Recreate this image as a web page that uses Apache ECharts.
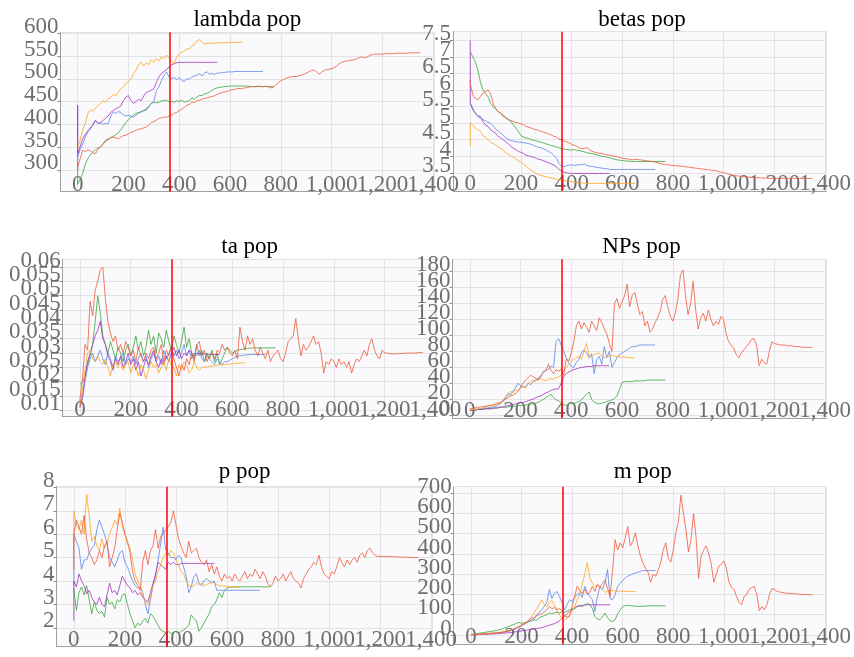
<!DOCTYPE html>
<html><head><meta charset="utf-8">
<script src="https://cdn.jsdelivr.net/npm/echarts@6/dist/echarts.min.js"></script>
<style>html,body{margin:0;padding:0;background:#fff}#c{width:854px;height:657px}</style>
</head><body><div id="c"></div>
<script>
const STEP = 10;           // x spacing of the sampled values
const MARKER_X = 362;      // vertical red marker
const X_MIN = -68, X_MAX = 1405, X_INTERVAL = 200;

// ---------- lambda pop ----------
const lambda_red_head = [300];
const lambda_red = [305,325,343,340,344,342,338,335,345,350,356,363,366,370,372,370,368,372,375,376,379,382,384,387,389,390,392,394,398,404,406,409,413,414,416,415,418,420,424,426,430,433,437,442,444,449,448,452,453,455,457,458,460,461,463,466,468,470,471,473,475,476,477,479,478,479,480,481,482,483,482,484,483,482,484,482,480,481,486,491,496,498,501,503,504,505,505,506,508,510,512,515,518,519,516,510,514,518,520,521,522,524,528,533,536,538,539,540,541,542,544,547,548,546,548,551,553,554,554,554,554,555,555,555,555,556,556,556,556,556,556,557,557,557,557,557];
const lambda_orange = [350,365,388,402,424,432,428,436,441,446,452,448,456,459,466,462,471,478,482,490,494,501,511,519,531,536,528,535,531,541,536,545,539,548,544,552,546,538,533,548,555,558,561,566,565,572,575,583,586,580,576,578,578,578,578,579,579,579,579,579,580,580,580,580,580,580];
const lambda_purple_head = [300,442];
const lambda_purple = [335,352,368,378,386,392,398,408,402,404,408,414,418,426,430,434,437,440,452,460,463,452,446,450,455,452,462,470,472,475,478,492,504,512,516,520,526,531,533,535,536,536,536,536,536,536,536,536,536,536,536,536,536,536,536,536];
const lambda_blue = [328,345,357,372,383,390,400,409,402,403,400,402,401,418,427,424,428,426,421,418,420,417,416,420,424,428,430,434,440,446,450,474,482,496,508,515,503,500,503,498,502,496,494,500,499,504,506,508,511,506,513,515,510,512,509,513,512,514,514,515,515,515,516,516,516,516,516,516,516,516,516,516,516,516];
const lambda_green_head = [300];
const lambda_green = [268,280,292,312,325,333,339,344,348,351,358,365,368,371,373,377,381,388,396,404,410,416,420,424,426,427,430,431,438,446,448,447,449,451,452,453,449,451,448,452,450,453,449,450,452,458,455,460,464,463,467,468,471,475,478,480,481,482,483,483,484,484,484,484,484,484,484,484,483,483,483,483,483,483,483,483,483,483];

// ---------- betas pop ----------
const betas_red_head = [6.3];
const betas_red = [6.2,5.85,5.75,5.7,5.8,5.9,5.95,6.0,5.9,5.6,5.45,5.35,5.3,5.2,5.15,5.1,5.08,5.05,5.02,5.0,4.98,4.95,4.9,4.88,4.85,4.82,4.8,4.78,4.75,4.72,4.7,4.67,4.64,4.6,4.58,4.52,4.5,4.46,4.44,4.4,4.36,4.33,4.3,4.25,4.22,4.24,4.26,4.2,4.15,4.12,4.1,4.09,4.08,4.06,4.04,4.03,4.01,4.0,3.98,3.96,3.94,3.93,3.92,3.9,3.89,3.9,3.9,3.89,3.88,3.87,3.86,3.85,3.84,3.82,3.8,3.78,3.76,3.75,3.74,3.73,3.72,3.71,3.71,3.7,3.69,3.68,3.67,3.66,3.65,3.64,3.63,3.62,3.61,3.6,3.59,3.58,3.57,3.56,3.54,3.52,3.5,3.48,3.46,3.44,3.42,3.41,3.4,3.39,3.38,3.37,3.37,3.36,3.36,3.35,3.35,3.34,3.34,3.34,3.33,3.33,3.33,3.33,3.33,3.33,3.33,3.33,3.33,3.33,3.33,3.33,3.33,3.33,3.33,3.33,3.33,3.33];
const betas_orange_head = [4.3];
const betas_orange = [5.0,4.95,4.85,4.8,4.75,4.62,4.58,4.5,4.42,4.38,4.34,4.28,4.24,4.18,4.1,4.06,4.0,3.98,3.92,3.86,3.83,3.76,3.7,3.64,3.58,3.53,3.48,3.44,3.42,3.4,3.38,3.36,3.34,3.33,3.31,3.29,3.28,3.27,3.26,3.24,3.23,3.22,3.21,3.2,3.19,3.19,3.18,3.18,3.18,3.18,3.18,3.18,3.18,3.18,3.18,3.18,3.18,3.18,3.18,3.18,3.18,3.18,3.18,3.18,3.18,3.18];
const betas_purple_head = [7.5];
const betas_purple = [5.6,5.4,5.3,5.22,5.2,5.05,4.95,4.9,4.8,4.74,4.7,4.6,4.56,4.5,4.44,4.38,4.3,4.24,4.2,4.14,4.12,4.08,4.03,4.01,3.99,3.97,3.94,3.91,3.89,3.86,3.83,3.8,3.77,3.73,3.68,3.6,3.56,3.52,3.5,3.49,3.48,3.48,3.48,3.48,3.48,3.48,3.48,3.48,3.48,3.48,3.48,3.48,3.48,3.48,3.48,3.48];
const betas_blue = [5.6,5.45,5.3,5.2,5.15,5.1,5.08,5.02,5.0,4.92,4.82,4.76,4.7,4.64,4.56,4.5,4.48,4.46,4.44,4.43,4.42,4.41,4.4,4.38,4.36,4.32,4.29,4.27,4.25,4.22,4.18,4.14,4.1,4.02,3.94,3.78,3.7,3.68,3.71,3.73,3.74,3.72,3.73,3.75,3.74,3.77,3.72,3.7,3.69,3.68,3.66,3.65,3.64,3.63,3.62,3.6,3.6,3.6,3.6,3.6,3.6,3.6,3.6,3.6,3.6,3.6,3.6,3.6,3.6,3.6,3.6,3.6,3.6,3.6];
const betas_green_head = [7.15];
const betas_green = [7.1,7.0,6.85,6.6,6.25,6.0,5.9,5.8,5.6,5.5,5.42,5.35,5.3,5.24,5.18,5.12,5.05,4.95,4.85,4.75,4.62,4.58,4.55,4.54,4.5,4.48,4.46,4.44,4.42,4.4,4.37,4.35,4.32,4.3,4.28,4.25,4.23,4.22,4.2,4.19,4.19,4.2,4.18,4.17,4.15,4.13,4.11,4.09,4.08,4.06,4.04,4.02,4.0,3.99,3.97,3.95,3.93,3.91,3.89,3.88,3.87,3.86,3.85,3.85,3.84,3.84,3.84,3.84,3.84,3.84,3.84,3.84,3.84,3.84,3.84,3.84,3.84,3.84];

// ---------- ta pop ----------
const ta_red_head = [0.012];
const ta_red = [0.014,0.021,0.033,0.031,0.048,0.043,0.052,0.055,0.059,0.06,0.049,0.041,0.037,0.034,0.036,0.031,0.033,0.03,0.034,0.032,0.029,0.031,0.027,0.032,0.029,0.027,0.03,0.028,0.031,0.032,0.028,0.03,0.033,0.027,0.031,0.029,0.032,0.028,0.025,0.022,0.026,0.024,0.028,0.026,0.03,0.027,0.033,0.034,0.029,0.031,0.027,0.029,0.03,0.028,0.031,0.03,0.033,0.031,0.032,0.03,0.029,0.031,0.028,0.039,0.034,0.031,0.036,0.033,0.035,0.031,0.029,0.032,0.03,0.028,0.031,0.027,0.029,0.03,0.031,0.028,0.027,0.03,0.034,0.035,0.036,0.042,0.035,0.029,0.033,0.031,0.032,0.034,0.036,0.033,0.034,0.03,0.023,0.027,0.026,0.028,0.027,0.025,0.028,0.026,0.027,0.025,0.027,0.023,0.026,0.028,0.027,0.029,0.031,0.029,0.033,0.035,0.031,0.029,0.028,0.031,0.03,0.03,0.0298,0.0297,0.0297,0.0298,0.0298,0.0299,0.0299,0.03,0.03,0.03,0.03,0.0301,0.0302,0.0302];
const ta_orange_head = [0.011];
const ta_orange = [0.012,0.017,0.024,0.03,0.031,0.028,0.027,0.029,0.027,0.026,0.028,0.025,0.022,0.026,0.027,0.025,0.027,0.024,0.026,0.027,0.023,0.026,0.025,0.022,0.026,0.024,0.021,0.024,0.027,0.025,0.026,0.023,0.025,0.027,0.024,0.028,0.026,0.025,0.022,0.026,0.024,0.027,0.026,0.023,0.024,0.027,0.025,0.024,0.025,0.025,0.0252,0.0254,0.0255,0.0256,0.0257,0.0258,0.0259,0.026,0.0261,0.0262,0.0263,0.0264,0.0265,0.0265,0.0266,0.0266];
const ta_purple = [0.011,0.015,0.022,0.027,0.03,0.033,0.036,0.038,0.041,0.035,0.033,0.029,0.027,0.024,0.028,0.026,0.029,0.025,0.027,0.03,0.026,0.028,0.024,0.027,0.022,0.025,0.028,0.026,0.029,0.031,0.027,0.025,0.028,0.026,0.029,0.027,0.03,0.032,0.029,0.031,0.028,0.03,0.029,0.031,0.03,0.029,0.03,0.0298,0.0297,0.0297,0.0296,0.0296,0.0295,0.0295,0.0295,0.0295];
const ta_blue = [0.011,0.014,0.02,0.025,0.028,0.03,0.027,0.029,0.031,0.028,0.026,0.03,0.028,0.025,0.029,0.027,0.028,0.03,0.026,0.028,0.027,0.029,0.026,0.028,0.03,0.027,0.029,0.025,0.028,0.03,0.027,0.029,0.026,0.031,0.028,0.03,0.032,0.029,0.031,0.028,0.03,0.033,0.029,0.031,0.028,0.03,0.029,0.031,0.028,0.027,0.029,0.028,0.027,0.026,0.028,0.027,0.026,0.027,0.027,0.0275,0.028,0.0285,0.029,0.029,0.0292,0.0293,0.0294,0.0295,0.0295,0.0295,0.0295,0.0295,0.0295,0.0295];
const ta_green = [0.019,0.02,0.022,0.026,0.029,0.033,0.041,0.05,0.044,0.036,0.033,0.03,0.034,0.031,0.028,0.032,0.03,0.027,0.031,0.033,0.029,0.032,0.036,0.031,0.034,0.029,0.032,0.038,0.033,0.036,0.03,0.037,0.035,0.032,0.038,0.034,0.031,0.036,0.033,0.03,0.034,0.039,0.032,0.035,0.03,0.028,0.033,0.029,0.031,0.027,0.03,0.028,0.031,0.027,0.03,0.026,0.028,0.03,0.032,0.031,0.03,0.0305,0.031,0.0312,0.0314,0.0315,0.0316,0.0317,0.0318,0.0318,0.0318,0.0318,0.0318,0.0318,0.0318,0.0318,0.0318,0.0318];

// ---------- NPs pop ----------
const nps_red = [8,8,9,10,10,11,11,12,12,13,14,15,16,18,20,22,24,25,27,30,35,40,44,47,50,48,46,44,50,53,56,64,56,52,57,55,58,50,70,68,78,92,112,118,108,116,110,104,118,112,106,122,116,108,102,90,80,140,146,134,142,150,164,136,150,154,140,126,130,112,118,104,108,116,122,130,145,150,136,124,118,128,146,176,182,150,126,140,168,132,108,122,128,118,132,120,112,118,114,124,120,102,92,88,84,76,72,78,82,86,90,95,96,88,62,70,66,64,80,92,90,89,88,88,88,87,87,87,86,86,86,85,85,85,85,85];
const nps_orange = [6,7,7,8,8,9,10,11,12,12,13,14,15,17,20,25,30,28,32,30,34,36,34,40,42,44,42,45,46,44,43,45,46,45,47,48,50,55,60,64,68,70,72,74,70,80,90,74,73,76,77,78,74,72,73,74,75,74,74,73,73,73,72,72,72,72];
const nps_purple = [6,6,6,7,7,7,8,8,8,8,9,9,10,10,11,12,12,13,14,15,16,16,17,18,19,20,22,23,24,26,28,29,31,32,33,33,40,48,52,54,56,57,58,59,60,60,61,61,61,62,62,62,62,62,62,62];
const nps_blue = [6,6,7,7,8,8,9,9,10,10,11,12,14,18,22,27,25,30,34,40,37,35,36,40,38,42,44,47,48,55,56,58,61,60,92,96,88,80,72,66,61,60,66,70,78,82,78,72,77,52,70,74,64,86,72,80,60,66,72,76,78,80,82,84,86,86,87,88,88,88,88,88,88,88];
const nps_green = [6,6,6,7,7,7,8,8,8,9,9,9,10,10,10,10,11,11,11,12,12,12,13,13,14,14,15,16,18,20,22,24,26,22,19,18,16,13,12,14,15,14,16,17,19,23,26,29,20,16,15,14,15,16,17,18,19,21,24,32,41,42,42,42,42,43,43,43,43,43,44,44,44,44,44,44,44,44];

// ---------- p pop ----------
const p_red_head = [4.5];
const p_red = [6.0,6.6,6.3,6.0,6.8,5.8,5.2,5.0,4.7,4.9,5.3,5.0,5.5,5.7,4.6,5.0,5.4,6.2,6.9,6.5,6.0,5.7,5.2,4.4,4.0,3.8,3.6,4.8,5.3,4.7,5.3,5.5,6.2,5.4,5.9,6.0,6.2,6.3,6.5,7.0,6.4,5.8,5.5,5.2,5.0,5.7,5.2,5.3,5.4,5.0,4.8,4.7,4.9,4.4,4.7,4.3,4.6,4.2,4.0,4.3,4.1,4.2,4.0,4.3,4.1,4.0,4.2,4.4,4.1,4.3,4.2,4.5,4.3,4.1,4.4,4.2,3.9,3.75,3.9,4.2,4.0,4.1,4.3,4.0,4.2,4.4,4.1,4.0,3.9,3.7,4.1,4.3,4.5,4.6,4.8,4.7,5.1,4.6,4.3,4.2,4.1,4.4,4.3,4.6,5.0,4.8,4.6,4.9,4.7,4.9,5.0,4.8,5.1,5.2,5.0,5.3,5.4,5.2,5.1,5.05,5.05,5.05,5.05,5.05,5.04,5.04,5.03,5.03,5.02,5.02,5.02,5.01,5.01,5.0,5.0,5.0];
const p_orange_head = [5.5];
const p_orange = [7.0,6.4,6.2,6.6,6.0,7.7,6.8,5.7,5.9,5.5,5.3,5.8,5.4,5.6,6.0,6.3,6.6,6.4,7.1,6.3,6.0,5.6,5.4,4.9,4.3,4.0,3.8,3.4,3.1,3.0,3.3,3.8,4.0,4.4,4.7,5.0,5.2,5.1,5.3,5.2,4.9,4.7,4.4,4.3,4.0,3.8,3.75,3.8,3.9,3.85,3.9,3.8,3.85,3.9,4.0,3.9,3.85,3.8,3.8,3.78,3.76,3.75,3.74,3.74,3.73,3.73];
const p_purple_head = [2.3];
const p_purple = [4.0,3.75,4.3,4.0,3.8,3.45,3.6,3.3,3.1,3.0,3.3,3.0,2.9,3.4,3.9,3.5,3.6,3.4,3.8,4.2,4.0,3.8,3.7,3.5,3.6,3.4,3.5,3.3,3.2,3.1,3.5,3.9,4.3,4.8,4.7,4.6,4.5,4.8,4.7,4.8,4.7,4.7,4.75,4.75,4.75,4.75,4.75,4.75,4.75,4.75,4.75,4.75,4.75,4.75,4.75,4.75];
const p_blue_head = [3.8];
const p_blue = [6.0,5.7,5.4,4.5,4.9,4.9,5.2,5.4,5.5,6.2,6.6,6.3,6.0,5.6,5.0,4.8,4.6,4.9,5.2,5.3,4.8,4.6,4.3,4.0,3.8,3.7,3.75,3.5,3.0,2.6,3.2,3.8,4.2,4.9,5.6,6.3,5.3,5.2,5.0,5.0,4.9,5.1,5.0,4.6,4.2,3.5,3.75,4.2,4.3,3.9,3.8,4.0,4.1,4.0,3.9,4.0,3.6,3.6,3.6,3.6,3.6,3.6,3.6,3.6,3.6,3.6,3.6,3.6,3.6,3.6,3.6,3.6,3.6,3.6];
const p_green_head = [3.7];
const p_green = [3.6,2.75,3.5,3.75,3.4,3.8,3.2,2.6,3.1,2.75,2.6,2.7,2.45,3.3,3.0,3.1,2.8,3.2,3.1,3.4,3.45,3.0,2.6,2.3,2.0,2.2,2.1,2.3,2.4,2.2,2.6,2.5,2.3,2.1,1.9,1.85,1.8,1.85,1.75,1.8,1.85,1.75,1.85,1.9,2.0,2.1,2.55,2.4,2.3,1.85,2.0,2.2,2.4,2.6,2.9,3.0,3.2,3.5,3.3,3.6,3.7,3.72,3.74,3.75,3.75,3.75,3.75,3.75,3.75,3.75,3.75,3.75,3.75,3.75,3.75,3.75,3.75,3.75];

// ---------- m pop ----------
const m_red = [0,1,2,3,4,5,6,7,8,9,10,11,13,15,17,20,25,30,36,41,48,55,60,75,85,80,95,100,105,115,124,141,130,135,125,130,120,95,88,92,140,190,240,220,205,225,200,210,240,215,250,235,255,270,230,190,320,470,420,455,430,480,535,440,460,505,440,390,356,330,310,260,300,290,320,356,420,455,380,360,420,505,560,690,600,520,410,470,600,480,280,390,420,440,400,350,260,300,340,350,365,330,260,235,225,190,160,150,190,200,225,235,240,200,120,140,125,150,200,230,225,215,212,210,208,206,205,204,203,202,201,200,200,199,199,199];
const m_orange = [2,2,3,4,5,6,7,8,9,10,12,13,15,17,19,22,25,30,36,42,50,58,66,75,90,110,130,150,174,150,140,160,170,150,120,100,80,75,82,100,120,140,170,200,250,300,356,280,255,240,245,235,225,210,215,218,220,218,216,216,216,216,215,215,215,215];
const m_purple = [1,1,2,2,3,3,4,4,5,5,6,7,8,9,10,11,12,14,16,18,20,22,24,26,28,30,32,34,36,40,44,48,52,56,62,70,82,92,105,116,125,135,141,144,146,148,149,149,149,149,149,149,149,149,149,149];
const m_blue = [2,2,3,3,4,5,6,7,8,9,10,11,12,14,16,18,22,26,32,38,46,52,60,68,75,85,100,110,125,140,160,224,180,205,215,190,160,124,150,174,165,185,200,207,185,240,210,190,175,116,190,240,225,260,323,180,174,200,240,255,270,280,290,296,302,306,310,314,318,318,318,318,318,318];
const m_green = [2,4,6,8,10,12,14,16,18,20,22,25,28,34,38,42,48,52,58,62,58,60,62,66,70,75,72,85,91,95,100,108,104,110,112,108,115,112,118,124,130,128,141,146,140,149,155,150,130,91,80,75,90,108,85,70,66,75,105,124,140,145,146,145,143,142,141,141,142,143,143,144,144,144,144,144,144,144];

const COLORS = {green:'#3aa63a', blue:'#5a86e6', purple:'#a433bd', orange:'#ffa41b', red:'#ef5a3a'};
const FONT = '"Liberation Serif","Times New Roman",serif';

function pts(head, vals){
  const out = (head || []).map(v => [0, v]);
  vals.forEach((v, i) => out.push([i * STEP, v]));
  return out;
}

const panels = [
  {title:'lambda pop', grid:{left:60.4, top:32.3, width:374, height:159.4}, titleTop:8.7,
   y:{min:252, max:602, interval:50},
   s:{green:[lambda_green_head, lambda_green], blue:[null, lambda_blue], purple:[lambda_purple_head, lambda_purple], orange:[null, lambda_orange], red:[lambda_red_head, lambda_red]}},
  {title:'betas pop', grid:{left:453, top:31.7, width:378, height:159.3}, titleTop:8.7,
   y:{min:2.95, max:7.76, interval:0.5, hideBelow:3.25},
   s:{green:[betas_green_head, betas_green], blue:[null, betas_blue], purple:[betas_purple_head, betas_purple], orange:[betas_orange_head, betas_orange], red:[betas_red_head, betas_red]}},
  {title:'ta pop', grid:{left:62.7, top:259.3, width:374, height:157.4}, titleTop:235.7,
   y:{min:0.0078, max:0.0627, interval:0.005},
   s:{green:[null, ta_green], blue:[null, ta_blue], purple:[null, ta_purple], orange:[ta_orange_head, ta_orange], red:[ta_red_head, ta_red]}},
  {title:'NPs pop', grid:{left:452.5, top:259.3, width:378, height:159}, titleTop:235.7,
   y:{min:-4, max:195.5, interval:20},
   s:{green:[null, nps_green], blue:[null, nps_blue], purple:[null, nps_purple], orange:[null, nps_orange], red:[null, nps_red]}},
  {title:'p pop', grid:{left:56.5, top:486.7, width:376, height:160}, titleTop:460.7,
   y:{min:1.19, max:8.03, interval:1},
   s:{green:[p_green_head, p_green], blue:[p_blue_head, p_blue], purple:[p_purple_head, p_purple], orange:[p_orange_head, p_orange], red:[p_red_head, p_red]}},
  {title:'m pop', grid:{left:453.7, top:486.7, width:378, height:157.6}, titleTop:460.7,
   y:{min:-46, max:732, interval:100},
   s:{green:[null, m_green], blue:[null, m_blue], purple:[null, m_purple], orange:[null, m_orange], red:[null, m_red]}}
];

const option = {
  animation:false,
  backgroundColor:'#ffffff',
  title:[], grid:[], xAxis:[], yAxis:[], series:[]
};

const ORDER = ['green','blue','purple','orange','red'];

panels.forEach((p, i) => {
  option.title.push({
    text:p.title, left:p.grid.left + p.grid.width/2, top:p.titleTop, textAlign:'center', padding:0,
    textStyle:{fontFamily:FONT, fontSize:23, fontWeight:'normal', color:'#000', lineHeight:23}
  });
  option.grid.push({left:p.grid.left, top:p.grid.top, width:p.grid.width, height:p.grid.height,
    show:true, backgroundColor:'#fafafd', borderWidth:0, containLabel:false});
  option.xAxis.push({
    type:'value', gridIndex:i, min:X_MIN, max:X_MAX, minInterval:X_INTERVAL, maxInterval:X_INTERVAL,
    axisLine:{show:true, onZero:false, lineStyle:{color:'#a0a0a0', width:1}},
    axisTick:{show:false},
    axisLabel:{show:true, fontFamily:FONT, fontSize:23, color:'#6e6e6e', margin:-7, verticalAlign:'middle',
      showMinLabel:false, showMaxLabel:false,
      formatter:v => (v < 0 ? '' : Number(v).toLocaleString('en-US'))},
    splitLine:{show:true, lineStyle:{color:'#e3e3e6', width:1}}
  });
  const hb = p.y.hideBelow;
  option.yAxis.push({
    type:'value', gridIndex:i, min:p.y.min, max:p.y.max, minInterval:p.y.interval, maxInterval:p.y.interval,
    axisLine:{show:true, onZero:false, lineStyle:{color:'#a0a0a0', width:1}},
    axisTick:{show:true, length:3, lineStyle:{color:'#888'}},
    axisLabel:{show:true, fontFamily:FONT, fontSize:23, color:'#6e6e6e', margin:2,
      verticalAlign:'bottom', lineHeight:13,
      showMinLabel:false, showMaxLabel:false,
      formatter:v => (hb != null && v < hb) ? '' : String(+Number(v).toFixed(4))},
    splitLine:{show:true, lineStyle:{color:'#e3e3e6', width:1}}
  });
  ORDER.forEach(name => {
    const [head, vals] = p.s[name];
    const ser = {
      type:'line', xAxisIndex:i, yAxisIndex:i, data:pts(head, vals),
      showSymbol:false, symbol:'none', silent:true,
      lineStyle:{color:COLORS[name], width:1, opacity:0.8},
      emphasis:{disabled:true}
    };
    if (name === 'red') {
      ser.markLine = {silent:true, symbol:['none','none'], label:{show:false},
        lineStyle:{color:'#ff0000', width:1.5, type:'solid', opacity:1},
        emphasis:{disabled:true}, data:[{xAxis:MARKER_X}]};
    }
    option.series.push(ser);
  });
});

const chart = echarts.init(document.getElementById('c'), null, {renderer:'canvas', width:854, height:657});
chart.setOption(option);
</script>
</body></html>
